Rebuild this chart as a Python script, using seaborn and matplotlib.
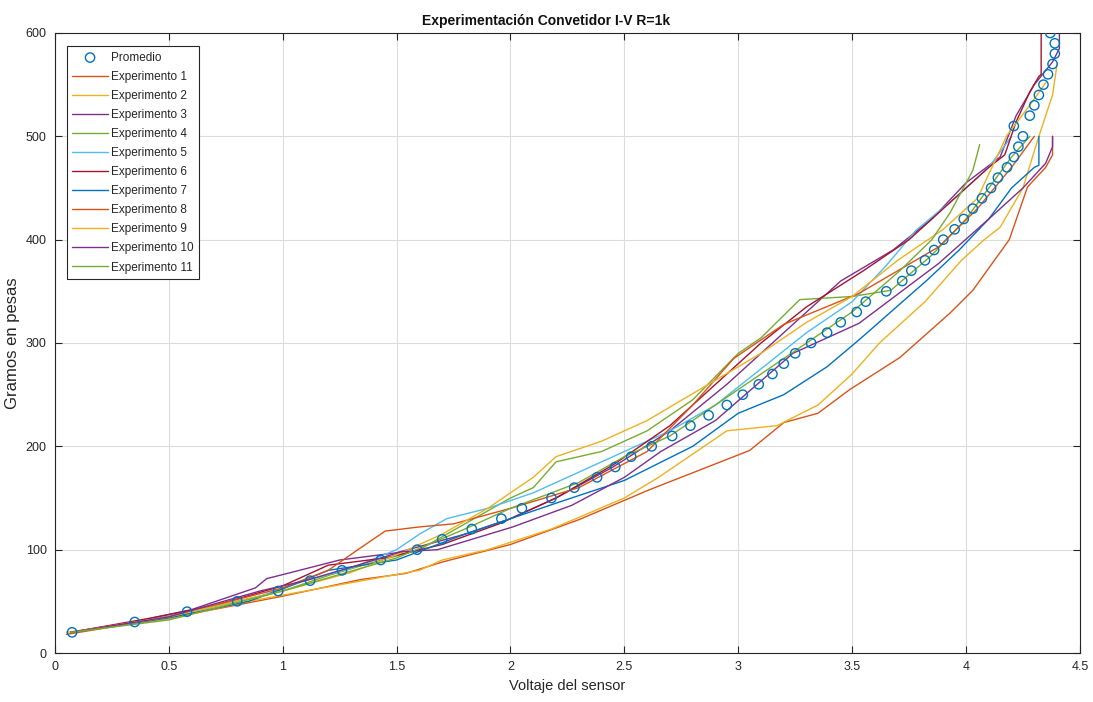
import numpy as np
import pandas as pd
import matplotlib
matplotlib.use("Agg")
import matplotlib.pyplot as plt
import seaborn as sns

title = "Experimentación Convetidor I-V R=1k"
xlabel = "Voltaje del sensor"
ylabel = "Gramos en pesas"
xticks = [0, 0.5, 1, 1.5, 2, 2.5, 3, 3.5, 4, 4.5]
xticklabels = ["0", "0.5", "1", "1.5", "2", "2.5", "3", "3.5", "4", "4.5"]
yticks = [0, 100, 200, 300, 400, 500, 600]

# Promedio (average)
prom_y = [20, 30, 40, 50, 60, 70, 80, 90, 100, 110, 120, 130, 140, 150, 160, 170, 180, 190,
          200, 210, 220, 230, 240, 250, 260, 270, 280, 290, 300, 310, 320, 330, 340, 350,
          360, 370, 380, 390, 400, 410, 420, 430, 440, 450, 460, 470, 480, 490, 500, 510,
          520, 530, 540, 550, 560, 570, 580, 590, 600]
prom_x = [0.075, 0.35, 0.58, 0.80, 0.98, 1.12, 1.26, 1.43, 1.59, 1.70, 1.83, 1.96, 2.05, 2.18,
          2.28, 2.38, 2.46, 2.53, 2.62, 2.71, 2.79, 2.87, 2.95, 3.02, 3.09, 3.15, 3.20, 3.25,
          3.32, 3.39, 3.45, 3.52, 3.56, 3.65, 3.72, 3.76, 3.82, 3.86, 3.90, 3.95, 3.99, 4.03,
          4.07, 4.11, 4.14, 4.18, 4.21, 4.23, 4.25, 4.21, 4.28, 4.30, 4.32, 4.34, 4.36, 4.38,
          4.39, 4.39, 4.37]

exp1_x = [0.05, 0.30, 0.60, 1.00, 1.34, 1.54, 1.70, 2.00, 2.30, 2.61, 2.83, 3.05, 3.20, 3.35,
          3.49, 3.71, 3.93, 4.03, 4.19, 4.27, 4.35, 4.38, 4.38]
exp1_y = [18, 27, 38, 55, 71, 77, 88, 105, 129, 158, 177, 196, 223, 232, 255, 286, 329, 351,
          400, 451, 470, 482, 500]

exp2_x = [0.05, 0.50, 0.85, 1.30, 1.60, 1.70, 1.90, 2.18, 2.50, 2.65, 2.85, 2.95, 3.17, 3.35,
          3.50, 3.62, 3.82, 3.98, 4.08, 4.15, 4.25, 4.32, 4.38, 4.40]
exp2_y = [20, 33, 50, 68, 80, 90, 100, 120, 150, 170, 200, 215, 220, 240, 270, 300, 340, 380,
          400, 412, 450, 500, 540, 570]

exp3_x = [0.07, 0.35, 0.60, 0.88, 0.93, 1.02, 1.25, 1.50, 1.80, 2.00, 2.20, 2.45, 2.70, 2.95,
          3.10, 3.30, 3.45, 3.68, 3.85, 4.00, 4.15, 4.22, 4.30, 4.38, 4.41, 4.41]
exp3_y = [20, 30, 42, 63, 72, 77, 90, 97, 115, 130, 150, 180, 215, 260, 290, 330, 360, 390,
          420, 455, 480, 520, 550, 572, 585, 600]

exp4_x = [0.07, 0.50, 0.80, 1.00, 1.20, 1.40, 1.60, 1.80, 2.00, 2.10, 2.20, 2.40, 2.60, 2.80,
          3.00, 3.10, 3.27, 3.50, 3.67, 3.85, 4.00, 4.10, 4.20, 4.28]
exp4_y = [20, 35, 50, 60, 75, 88, 100, 125, 150, 160, 185, 195, 215, 245, 290, 305, 342, 345,
          351, 385, 420, 450, 480, 500]

exp5_x = [0.07, 0.35, 0.60, 0.90, 1.10, 1.30, 1.50, 1.60, 1.72, 1.90, 2.10, 2.30, 2.50, 2.70,
          2.90, 3.10, 3.30, 3.50, 3.65, 3.78, 3.95, 4.10, 4.20]
exp5_y = [20, 30, 40, 55, 70, 82, 100, 115, 130, 140, 155, 175, 195, 215, 240, 275, 310, 340,
          375, 409, 440, 470, 500]

exp6_x = [0.07, 0.40, 0.70, 1.00, 1.20, 1.45, 1.70, 1.95, 2.20, 2.45, 2.70, 2.95, 3.10, 3.30,
          3.55, 3.75, 3.95, 4.10, 4.17, 4.22, 4.28, 4.32, 4.33, 4.33]
exp6_y = [20, 33, 46, 65, 85, 92, 105, 125, 150, 182, 220, 270, 300, 335, 370, 400, 440, 470,
          482, 514, 543, 558, 560, 600]

exp7_x = [0.07, 0.50, 0.85, 1.00, 1.20, 1.50, 1.80, 2.00, 2.20, 2.50, 2.80, 3.00, 3.20, 3.39,
          3.53, 3.68, 3.83, 3.97, 4.10, 4.20, 4.30, 4.32, 4.32]
exp7_y = [20, 34, 50, 62, 80, 90, 115, 130, 145, 167, 200, 232, 250, 277, 303, 332, 361, 390,
          420, 450, 470, 472, 500]

exp8_x = [0.07, 0.50, 1.00, 1.20, 1.33, 1.45, 1.60, 1.75, 2.00, 2.30, 2.60, 2.80, 2.98, 3.20,
          3.53, 3.88, 4.05, 4.20, 4.30]
exp8_y = [20, 35, 63, 80, 100, 118, 122, 125, 140, 160, 195, 240, 285, 318, 348, 393, 430, 470,
          500]

exp9_x = [0.07, 0.50, 1.00, 1.30, 1.50, 1.70, 1.90, 2.10, 2.20, 2.40, 2.60, 2.90, 3.10, 3.30,
          3.50, 3.70, 3.90, 4.05, 4.18, 4.28, 4.35]
exp9_y = [20, 35, 60, 78, 95, 115, 140, 170, 190, 205, 225, 264, 290, 320, 345, 380, 410, 440,
          501, 530, 552]

exp10_x = [0.07, 0.50, 0.90, 1.10, 1.30, 1.52, 1.68, 2.01, 2.27, 2.50, 2.66, 2.90, 3.24, 3.53,
           3.88, 4.10, 4.25, 4.35, 4.38, 4.38]
exp10_y = [20, 35, 60, 70, 83, 98, 100, 122, 143, 170, 195, 225, 290, 319, 377, 420, 450, 474,
           490, 500]

exp11_x = [0.07, 0.50, 1.00, 1.50, 1.80, 2.00, 2.30, 2.50, 2.70, 2.90, 3.10, 3.30, 3.50, 3.71,
           3.85, 3.93, 4.03, 4.06]
exp11_y = [20, 32, 60, 92, 120, 140, 165, 190, 210, 240, 270, 300, 330, 370, 400, 426, 467, 492]

exp_names = ["Experimento %d" % i for i in range(1, 12)]
exp_xs = [exp1_x, exp2_x, exp3_x, exp4_x, exp5_x, exp6_x, exp7_x, exp8_x, exp9_x, exp10_x, exp11_x]
exp_ys = [exp1_y, exp2_y, exp3_y, exp4_y, exp5_y, exp6_y, exp7_y, exp8_y, exp9_y, exp10_y, exp11_y]

matlab = ["#0072BD", "#D95319", "#EDB120", "#7E2F8E", "#77AC30", "#4DBEEE", "#A2142F"]

sns.set_theme(style="white")
plt.rcParams["font.family"] = ["Liberation Sans", "DejaVu Sans"]

fig = plt.figure(figsize=(10.93, 7.02), dpi=100)
ax = fig.add_axes([0.0503, 0.0698, 0.9377, 0.8832])

prom_df = pd.DataFrame({"x": prom_x, "y": prom_y})
sns.scatterplot(data=prom_df, x="x", y="y", ax=ax, marker="o", s=45,
                facecolors="none", edgecolor=matlab[0], linewidth=1.0,
                label="Promedio", zorder=5)

for i, (name, xs, ys) in enumerate(zip(exp_names, exp_xs, exp_ys)):
    df = pd.DataFrame({"x": xs, "y": ys})
    sns.lineplot(data=df, x="x", y="y", ax=ax, sort=False, estimator=None,
                 color=matlab[(i + 1) % 7], linewidth=1.0, label=name)

ax.set_xlim(0, 4.5)
ax.set_ylim(0, 600)
ax.set_xticks(xticks)
ax.set_xticklabels(xticklabels)
ax.set_yticks(yticks)
ax.grid(True, color="#dcdcdc", linewidth=0.8)
ax.set_axisbelow(True)
ax.tick_params(direction="in", length=5, width=0.8, colors="#262626", labelsize=9,
               top=True, right=True, bottom=True, left=True, pad=6)
for s in ax.spines.values():
    s.set_color("#262626")
    s.set_linewidth(0.8)
ax.set_xlabel(xlabel, fontsize=10.5, color="#262626", labelpad=4)
ax.set_ylabel(ylabel, fontsize=12, color="#262626", labelpad=4)
ax.set_title(title, fontsize=10, fontweight="bold", color="#111111", pad=6, x=0.479)

leg = ax.legend(loc="upper left", bbox_to_anchor=(0.006, 0.988), fontsize=8.5,
                frameon=True, fancybox=False, edgecolor="#262626", framealpha=1,
                handlelength=3.0, labelspacing=0.6, borderpad=0.45, handletextpad=0.3)
leg.get_frame().set_linewidth(0.8)

fig.savefig("out.png", dpi=100)
